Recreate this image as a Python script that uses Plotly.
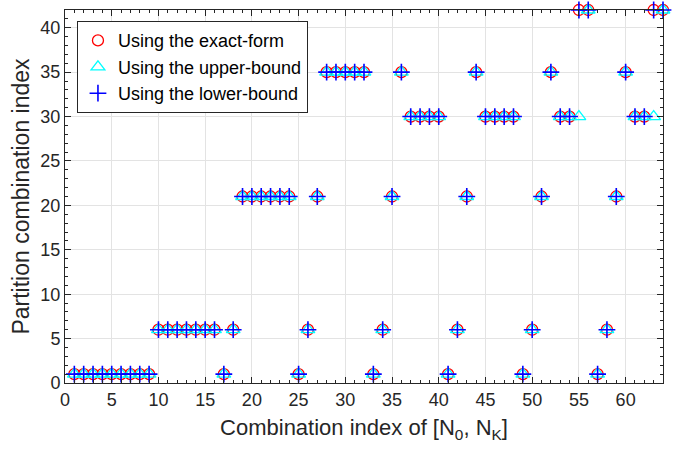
import plotly.graph_objects as go

idx = list(range(1, 65))
exact = [1]*9 + [6]*7 + [1, 6] + [21]*6 + [1, 6, 21] + [35]*5 + [1, 6, 21, 35] + [30]*4 \
    + [1, 6, 21, 35] + [30]*4 + [1, 6, 21, 35] + [30]*2 + [42, 42] + [1, 6, 21, 35] + [30]*2 + [42, 42]
upper = list(exact)
upper[55-1] = 30
upper[63-1] = 30
lower = list(exact)

font = "Liberation Sans, Arial, sans-serif"
fig = go.Figure()
fig.add_trace(go.Scatter(x=idx, y=exact, mode="markers", name="Using the exact-form",
                         marker=dict(symbol="circle-open", size=11, color="#ff0000", line=dict(width=1.3)),
                         cliponaxis=False))
fig.add_trace(go.Scatter(x=idx, y=upper, mode="markers", name="Using the upper-bound",
                         marker=dict(symbol="triangle-up-open", size=12, color="#00ffff", line=dict(width=1.3)),
                         cliponaxis=False))
fig.add_trace(go.Scatter(x=idx, y=lower, mode="markers", name="Using the lower-bound",
                         marker=dict(symbol="cross-thin", size=12, color="#0000ff", line=dict(width=1.6, color="#0000ff")),
                         cliponaxis=False))

axis_common = dict(showline=True, linecolor="#262626", linewidth=1, mirror="ticks",
                   ticks="inside", ticklen=6, tickcolor="#262626",
                   showgrid=True, gridcolor="#e3e3e3", gridwidth=1, zeroline=False,
                   automargin=False,
                   tickfont=dict(family=font, size=18, color="#262626"),
                   minor=dict(dtick=1, ticks="inside", ticklen=3, tickcolor="#262626", showgrid=False))

fig.update_xaxes(range=[0, 64], dtick=5, tick0=0,
                 title=dict(text="Combination index of [N<sub>0</sub>, N<sub>K</sub>]",
                            font=dict(family=font, size=22, color="#262626"), standoff=11),
                 **axis_common)
fig.update_yaxes(range=[0, 42], dtick=5, tick0=0,
                 title=dict(text="Partition combination index",
                            font=dict(family=font, size=23, color="#262626"), standoff=4),
                 **axis_common)

fig.update_layout(width=694, height=452, margin=dict(l=65, r=31, t=10, b=69),
                  plot_bgcolor="white", paper_bgcolor="white",
                  legend=dict(x=0.02, y=0.97, xanchor="left", yanchor="top",
                              bgcolor="white", bordercolor="#262626", borderwidth=1,
                              font=dict(family=font, size=18, color="black"),
                              tracegroupgap=0, itemsizing="trace"),
                  showlegend=True)

fig.write_html("out.html", config={"displayModeBar": False},
               post_script="document.body.style.margin='0';document.body.style.overflow='hidden';")
